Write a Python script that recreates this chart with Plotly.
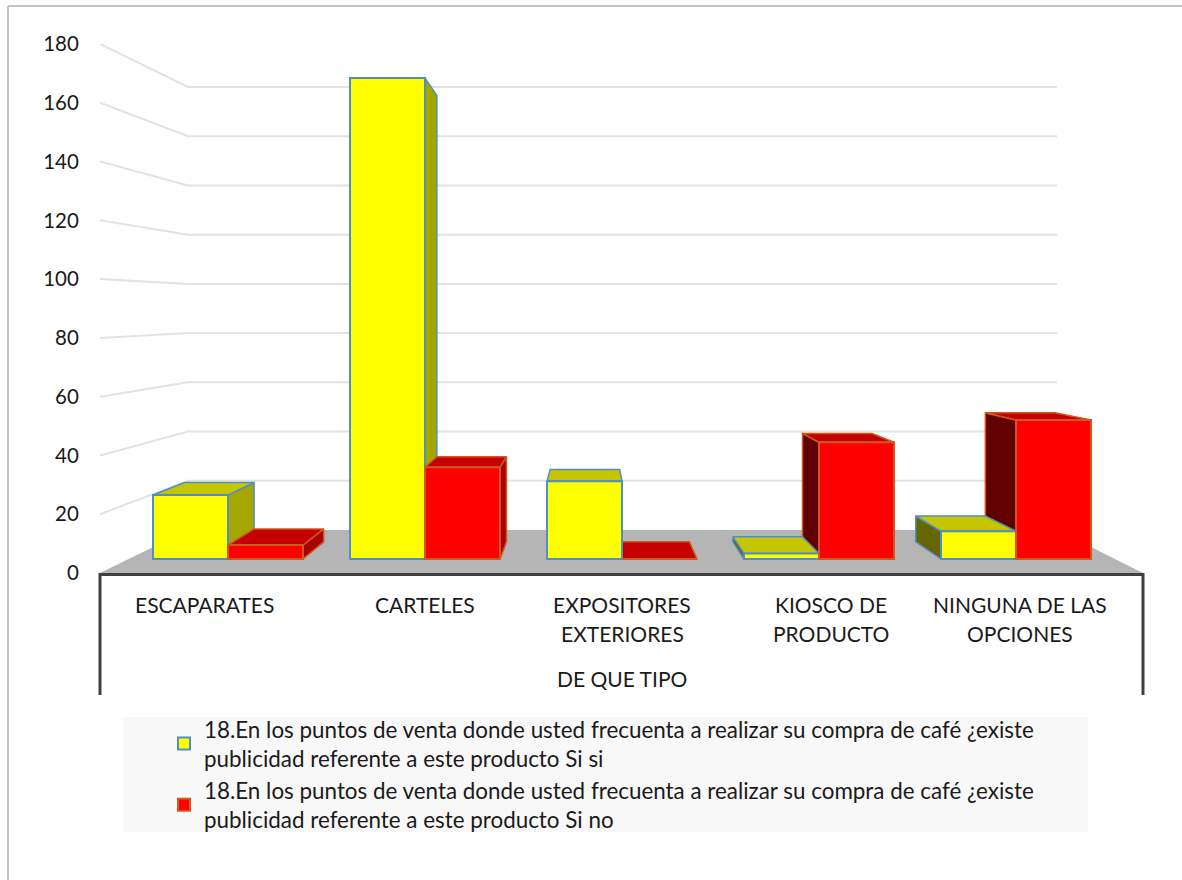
import plotly.graph_objects as go

categories = ["ESCAPARATES", "CARTELES", "EXPOSITORES EXTERIORES", "KIOSCO DE PRODUCTO", "NINGUNA DE LAS OPCIONES"]
values_si = [23, 173, 28, 2, 10]
values_no = [5, 33, 0, 42, 50]
tick_vals = [0, 20, 40, 60, 80, 100, 120, 140, 160, 180]
name_si = "18.En los puntos de venta donde usted frecuenta a realizar su compra de café ¿existe<br>publicidad referente a este producto Si si"
name_no = "18.En los puntos de venta donde usted frecuenta a realizar su compra de café ¿existe<br>publicidad referente a este producto Si no"
axis_title = "DE QUE TIPO"
label_lines = [["ESCAPARATES"], ["CARTELES"], ["EXPOSITORES", "EXTERIORES"], ["KIOSCO DE", "PRODUCTO"], ["NINGUNA DE LAS", "OPCIONES"]]

W, H = 1182, 880
L, R, T, B = 100, 1143, 44, 573
FONT = "Lato"
FS = 21


def ux(px):
    return (px - 228) / 197.0


def uy(py):
    return (B - py) / ((B - T) / 180.0)


def pxp(px):
    return (px - L) / (R - L)


def pyp(py):
    return (B - py) / (B - T)


XR = [ux(L), ux(R)]
BW = 75 / 197.0
BASE = uy(559)
SCALE = 2.78 / 2.939
VX, VY = ux(590), uy(320)
DEPTH = 0.072


def back(x, y):
    return x + DEPTH * (VX - x), y + DEPTH * (VY - y)


def face(pts, fill, line):
    xs = [p[0] for p in pts] + [pts[0][0]]
    ys = [p[1] for p in pts] + [pts[0][1]]
    return go.Scatter(x=xs, y=ys, mode="lines", fill="toself", fillcolor=fill,
                      line=dict(color=line, width=1.5), showlegend=False, hoverinfo="skip")


def bar_faces(x0, x1, v, side_r, side_l, top, line):
    y0, y1 = BASE, BASE + v * SCALE
    out = []
    if x1 < VX:
        out.append(face([(x1, y0), back(x1, y0), back(x1, y1), (x1, y1)], side_r, line))
    if x0 > VX:
        out.append(face([(x0, y0), back(x0, y0), back(x0, y1), (x0, y1)], side_l, line))
    if y1 < VY:
        out.append(face([(x0, y1), (x1, y1), back(x1, y1), back(x0, y1)], top, line))
    return out


fig = go.Figure()

# floor and walls
gx, gy = [], []
for v in tick_vals[1:]:
    by = uy(530) + v * (uy(87) - uy(530)) / 180.0
    gx += [XR[0], ux(188), ux(1057), None]
    gy += [v, by, by, None]
fig.add_trace(go.Scatter(x=gx, y=gy, mode="lines", line=dict(color="#e2e2e2", width=2),
                         showlegend=False, hoverinfo="skip"))
fig.add_trace(go.Scatter(x=[XR[0], ux(188), ux(1057), XR[1], XR[0]], y=[0, uy(530), uy(530), 0, 0],
                         mode="lines", fill="toself", fillcolor="#b5b5b5", line=dict(width=0),
                         showlegend=False, hoverinfo="skip"))

BLUE = "#4f8fc4"
ORANGE = "#d0581a"
for i in range(len(categories)):
    si = bar_faces(i - BW, i, values_si[i], "#a6a600", "#666600", "#c6c600", BLUE)
    no = bar_faces(i, i + BW, values_no[i], "#a80000", "#620000", "#c40000", ORANGE)
    for tr in (si + no if i <= 2 else no + si):
        fig.add_trace(tr)

# front faces, on an overlay so that they sit above the side faces
fig.add_trace(go.Bar(x=list(range(5)), y=[v * SCALE for v in values_si], base=BASE, width=BW, offset=-BW,
                     name=name_si, marker=dict(color="#ffff00", line=dict(color=BLUE, width=2)),
                     xaxis="x2", yaxis="y2"))
fig.add_trace(go.Bar(x=list(range(5)), y=[v * SCALE for v in values_no], base=BASE, width=BW, offset=0,
                     name=name_no, marker=dict(color="#ff0000", line=dict(color=ORANGE, width=2)),
                     xaxis="x2", yaxis="y2"))

annotations = []
for i, lines in enumerate(label_lines):
    cx = [204, 425, 622, 831, 1020][i]
    for j, t in enumerate(lines):
        annotations.append(dict(x=pxp(cx), y=pyp(604 + 29 * j), xref="paper", yref="paper", text=t,
                                showarrow=False, xanchor="center", yanchor="middle",
                                font=dict(family=FONT, size=FS, color="#1a1a1a")))
annotations.append(dict(x=pxp(622), y=pyp(678), xref="paper", yref="paper", text=axis_title,
                        showarrow=False, xanchor="center", yanchor="middle",
                        font=dict(family=FONT, size=FS, color="#1a1a1a")))

shapes = [
    dict(type="rect", xref="paper", yref="paper", x0=pxp(123), x1=pxp(1088), y0=pyp(717), y1=pyp(832),
         fillcolor="#f8f8f8", line=dict(width=0), layer="below"),
    dict(type="line", xref="paper", yref="paper", x0=pxp(100), x1=pxp(100), y0=pyp(573), y1=pyp(695),
         line=dict(color="#404040", width=3)),
    dict(type="line", xref="paper", yref="paper", x0=pxp(1143), x1=pxp(1143), y0=pyp(573), y1=pyp(695),
         line=dict(color="#404040", width=3)),
    dict(type="line", xref="paper", yref="paper", x0=pxp(8), x1=pxp(8), y0=pyp(6), y1=pyp(880),
         line=dict(color="#c4c4c4", width=2)),
    dict(type="line", xref="paper", yref="paper", x0=pxp(8), x1=pxp(1182), y0=pyp(6), y1=pyp(6),
         line=dict(color="#c4c4c4", width=2)),
]

fig.update_layout(
    width=W, height=H, margin=dict(l=L, r=W - R, t=T, b=H - B, pad=0),
    paper_bgcolor="#ffffff", plot_bgcolor="rgba(0,0,0,0)", barmode="overlay",
    font=dict(family=FONT, size=FS, color="#1a1a1a"),
    xaxis=dict(range=XR, showgrid=False, zeroline=False, showticklabels=False, ticks="",
               showline=True, linecolor="#404040", linewidth=3),
    yaxis=dict(range=[0, 180], tickvals=tick_vals, showgrid=False, zeroline=False, showline=False,
               ticks="outside", ticklen=16, tickcolor="rgba(0,0,0,0)",
               tickfont=dict(family=FONT, size=20.5, color="#1a1a1a")),
    xaxis2=dict(range=XR, overlaying="x", visible=False),
    yaxis2=dict(range=[0, 180], overlaying="y", visible=False),
    legend=dict(x=pxp(164), y=pyp(708), xanchor="left", yanchor="top", bgcolor="rgba(0,0,0,0)",
                font=dict(family=FONT, size=22.4, color="#1a1a1a"), traceorder="normal", tracegroupgap=0),
    annotations=annotations, shapes=shapes,
)

fig.write_html("out.html", config=dict(displayModeBar=False),
               post_script="document.body.style.margin='0';document.body.style.overflow='hidden';")
